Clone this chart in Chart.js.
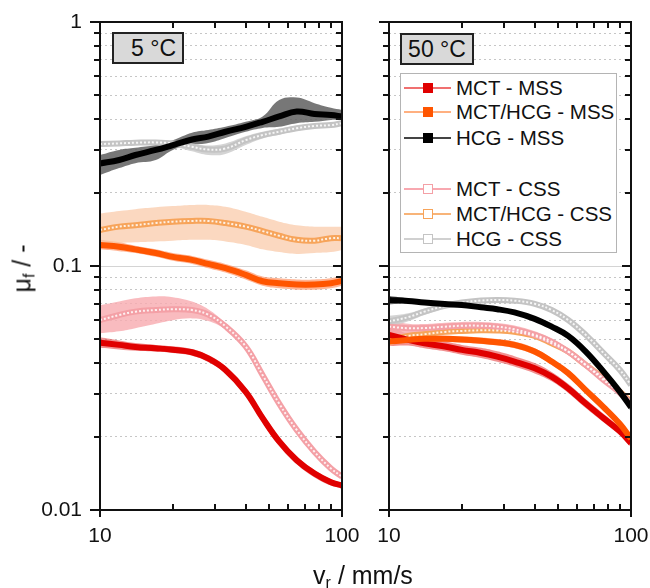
<!DOCTYPE html>
<html>
<head>
<meta charset="utf-8">
<script src="https://cdn.jsdelivr.net/npm/chart.js@4.4.1/dist/chart.umd.min.js"></script>
<style>
  body { margin: 0; background: #fff; font-family: "Liberation Sans", Arial, sans-serif; color: #111; }
  #wrap { position: relative; width: 650px; height: 588px; overflow: hidden; }
  canvas { position: absolute; top: 0; }
  #c5 { left: 0; }
  #c50 { left: 340px; }
  .temp { position: absolute; box-sizing: border-box; height: 32px; border: 2px solid #222; background: #d9d9d9;
          font-size: 23px; line-height: 28px; }
  #legend { position: absolute; left: 400px; top: 73px; width: 217px; height: 180px; box-sizing: border-box;
            border: 1px solid #b4b4b4; background: #fff; }
  .item { position: absolute; left: 0; height: 24px; width: 215px; font-size: 20.5px; line-height: 24px; }
  .item .ln { position: absolute; left: 3px; top: 11px; width: 47px; height: 1.5px; }
  .item .mk { position: absolute; left: 22px; top: 7px; width: 10px; height: 10px; box-sizing: border-box; }
  .item span { position: absolute; left: 55px; top: 0; white-space: nowrap; }
  #ytitle { position: absolute; left: -28px; top: 254px; width: 100px; text-align: center; font-size: 25px;
            transform: rotate(-90deg); }
  #xtitle { position: absolute; left: 263px; top: 561px; width: 200px; text-align: center; font-size: 25px; }
  sub { font-size: 16px; vertical-align: -4px; line-height: 0; }
</style>
</head>
<body>
<div id="wrap">
  <canvas id="c5" width="370" height="588"></canvas>
  <canvas id="c50" width="310" height="588"></canvas>
  <div class="temp" style="left:112px; top:32px; width:72px; text-align:right; padding-right:6px;">5 °C</div>
  <div class="temp" style="left:400px; top:33px; width:74px; text-align:center;">50 °C</div>
  <div id="legend"></div>
  <div id="ytitle">μ<sub>f</sub> / -</div>
  <div id="xtitle">v<sub>r</sub> / mm/s</div>
</div>
<script>
// sliding velocity (mm/s)
const velocity = [10, 12, 14, 17, 20, 24, 28, 33, 40, 47, 55, 65, 77, 90, 100];

// axis ticks
const xTickValues = [10, 20, 30, 40, 50, 60, 70, 80, 90, 100];
const xTickLabels = ['10', '', '', '', '', '', '', '', '', '100'];
const yTickValues = [0.01, 0.02, 0.03, 0.04, 0.05, 0.06, 0.07, 0.08, 0.09, 0.1,
                     0.2, 0.3, 0.4, 0.5, 0.6, 0.7, 0.8, 0.9, 1];
const yTickLabels = ['0.01', '', '', '', '', '', '', '', '', '0.1', '', '', '', '', '', '', '', '', '1'];

// ---- 5 °C ----
const mctMss5   = [0.0485, 0.0475, 0.0466, 0.046, 0.0454, 0.0443, 0.0418, 0.0375, 0.0305, 0.0238, 0.0191, 0.016, 0.0141, 0.013, 0.0126];
const mctMss5Hi = [0.051, 0.0495, 0.0483, 0.0475, 0.0469, 0.0457, 0.0432, 0.0389, 0.0318, 0.0249, 0.0199, 0.0166, 0.0146, 0.0134, 0.0129];
const mctMss5Lo = [0.0462, 0.0455, 0.0449, 0.0445, 0.044, 0.0429, 0.0404, 0.0362, 0.0293, 0.0228, 0.0183, 0.0154, 0.0136, 0.0126, 0.0123];

const mixMss5   = [0.122, 0.12, 0.117, 0.113, 0.109, 0.106, 0.102, 0.098, 0.092, 0.0866, 0.085, 0.084, 0.084, 0.085, 0.0868];
const mixMss5Hi = [0.128, 0.125, 0.121, 0.117, 0.113, 0.11, 0.106, 0.102, 0.096, 0.0905, 0.089, 0.088, 0.088, 0.089, 0.091];
const mixMss5Lo = [0.117, 0.115, 0.113, 0.109, 0.105, 0.102, 0.098, 0.094, 0.088, 0.083, 0.081, 0.080, 0.080, 0.081, 0.083];

const hcgMss5   = [0.263, 0.272, 0.285, 0.299, 0.313, 0.33, 0.339, 0.355, 0.372, 0.39, 0.41, 0.43, 0.42, 0.416, 0.41];
const hcgMss5Hi = [0.285, 0.299, 0.305, 0.313, 0.328, 0.352, 0.361, 0.372, 0.39, 0.41, 0.479, 0.49, 0.465, 0.445, 0.436];
const hcgMss5Lo = [0.236, 0.252, 0.264, 0.272, 0.299, 0.313, 0.319, 0.335, 0.355, 0.368, 0.372, 0.385, 0.39, 0.397, 0.397];

const mctCss5   = [0.060, 0.063, 0.065, 0.066, 0.0665, 0.066, 0.0632, 0.0566, 0.0468, 0.0357, 0.0273, 0.0213, 0.0173, 0.0148, 0.0137];
const mctCss5Hi = [0.069, 0.0715, 0.0737, 0.075, 0.0745, 0.0715, 0.0665, 0.0583, 0.0478, 0.0365, 0.0279, 0.0218, 0.0177, 0.0151, 0.014];
const mctCss5Lo = [0.053, 0.054, 0.0556, 0.058, 0.060, 0.061, 0.0595, 0.0549, 0.0458, 0.0349, 0.0267, 0.0208, 0.0169, 0.0145, 0.0134];

const mixCss5   = [0.1405, 0.145, 0.147, 0.15, 0.152, 0.153, 0.153, 0.15, 0.145, 0.139, 0.133, 0.128, 0.127, 0.13, 0.13];
const mixCss5Hi = [0.164, 0.168, 0.171, 0.174, 0.176, 0.178, 0.178, 0.175, 0.167, 0.159, 0.152, 0.147, 0.145, 0.145, 0.145];
const mixCss5Lo = [0.122, 0.124, 0.125, 0.126, 0.127, 0.128, 0.128, 0.126, 0.122, 0.117, 0.114, 0.112, 0.113, 0.114, 0.1164];

const hcgCss5   = [0.316, 0.318, 0.32, 0.321, 0.318, 0.308, 0.30, 0.303, 0.328, 0.344, 0.355, 0.367, 0.375, 0.378, 0.385];
const hcgCss5Hi = [0.322, 0.324, 0.326, 0.328, 0.326, 0.318, 0.312, 0.318, 0.34, 0.355, 0.365, 0.376, 0.383, 0.386, 0.392];
const hcgCss5Lo = [0.309, 0.311, 0.313, 0.314, 0.309, 0.295, 0.285, 0.288, 0.313, 0.333, 0.345, 0.358, 0.367, 0.37, 0.378];

// ---- 50 °C ----
const mctMss50   = [0.0522, 0.0498, 0.0482, 0.0468, 0.0453, 0.044, 0.0425, 0.0406, 0.0381, 0.0352, 0.0315, 0.0273, 0.0238, 0.021, 0.0188];
const mctMss50Hi = [0.0575, 0.0525, 0.0505, 0.049, 0.0475, 0.0462, 0.0447, 0.0427, 0.040, 0.0368, 0.0329, 0.0285, 0.0248, 0.0218, 0.0195];
const mctMss50Lo = [0.047, 0.0472, 0.046, 0.0447, 0.0433, 0.042, 0.0405, 0.0387, 0.0363, 0.0337, 0.0302, 0.0262, 0.0229, 0.0202, 0.0181];

const mixMss50   = [0.049, 0.0498, 0.0503, 0.0503, 0.050, 0.0494, 0.0487, 0.0475, 0.0446, 0.0406, 0.0364, 0.031, 0.0264, 0.0225, 0.0196];
const mixMss50Hi = [0.0505, 0.0513, 0.0518, 0.0518, 0.0515, 0.0509, 0.0502, 0.049, 0.046, 0.0419, 0.0376, 0.032, 0.0273, 0.0233, 0.0203];
const mixMss50Lo = [0.0475, 0.0483, 0.0488, 0.0488, 0.0485, 0.0479, 0.0472, 0.046, 0.0432, 0.0393, 0.0352, 0.030, 0.0255, 0.0217, 0.0189];

const hcgMss50   = [0.0726, 0.0719, 0.0708, 0.0698, 0.0692, 0.0677, 0.0665, 0.0645, 0.0607, 0.0564, 0.0517, 0.0446, 0.0369, 0.0305, 0.0264];
const hcgMss50Hi = [0.0755, 0.0735, 0.072, 0.0709, 0.0702, 0.0687, 0.0675, 0.0655, 0.0617, 0.0574, 0.0527, 0.0456, 0.0379, 0.0315, 0.0275];
const hcgMss50Lo = [0.0695, 0.0703, 0.0696, 0.0687, 0.0682, 0.0667, 0.0655, 0.0635, 0.0597, 0.0554, 0.0507, 0.0436, 0.0359, 0.0295, 0.0253];

const mctCss50   = [0.0564, 0.0556, 0.0557, 0.0564, 0.0569, 0.0569, 0.0564, 0.055, 0.0522, 0.049, 0.0446, 0.0393, 0.0341, 0.0302, 0.0273];
const mctCss50Hi = [0.060, 0.058, 0.0578, 0.0585, 0.059, 0.059, 0.0584, 0.057, 0.054, 0.0505, 0.0459, 0.0404, 0.035, 0.031, 0.028];
const mctCss50Lo = [0.0505, 0.0525, 0.0535, 0.0543, 0.0548, 0.0548, 0.0544, 0.053, 0.0504, 0.0475, 0.0433, 0.0382, 0.0332, 0.0294, 0.0266];

const mixCss50   = [0.0498, 0.0517, 0.0525, 0.0537, 0.0542, 0.0545, 0.0544, 0.0537, 0.0517, 0.0482, 0.0446, 0.0393, 0.0346, 0.0305, 0.0277];
const mixCss50Hi = [0.0525, 0.0535, 0.054, 0.055, 0.0555, 0.0558, 0.0557, 0.055, 0.053, 0.0494, 0.0457, 0.0403, 0.0355, 0.0313, 0.0284];
const mixCss50Lo = [0.047, 0.0499, 0.051, 0.0524, 0.0529, 0.0532, 0.0531, 0.0524, 0.0504, 0.047, 0.0435, 0.0383, 0.0337, 0.0297, 0.027];

const hcgCss50   = [0.0593, 0.0617, 0.065, 0.0686, 0.0708, 0.0722, 0.0726, 0.0721, 0.070, 0.066, 0.0601, 0.0522, 0.044, 0.0375, 0.0325];
const hcgCss50Hi = [0.0625, 0.064, 0.067, 0.0702, 0.0722, 0.0736, 0.074, 0.0735, 0.0714, 0.0674, 0.0614, 0.0534, 0.045, 0.0384, 0.0334];
const hcgCss50Lo = [0.0562, 0.0594, 0.063, 0.067, 0.0694, 0.0708, 0.0712, 0.0707, 0.0686, 0.0646, 0.0588, 0.051, 0.043, 0.0366, 0.0316];

// legend
const legendLabels = ['MCT - MSS', 'MCT/HCG - MSS', 'HCG - MSS', 'MCT - CSS', 'MCT/HCG - CSS', 'HCG - CSS'];

// --- Styles per series ---
const styles = {
    mctMss: { line: '#e00000', band: 'rgba(232, 70, 70, 0.6)', legendLine: '#f07070', open: false },
    mixMss: { line: '#ff5500', band: 'rgba(255, 140, 90, 0.65)', legendLine: '#ffb080', open: false },
    hcgMss: { line: '#000000', band: 'rgba(95, 95, 95, 0.85)', legendLine: '#444444', open: false },
    mctCss: { line: '#f4a0a6', band: 'rgba(248, 170, 175, 0.8)', legendLine: '#f8a8b0', open: true },
    mixCss: { line: '#f7a45a', band: 'rgba(250, 200, 165, 0.7)', legendLine: '#f8b478', open: true },
    hcgCss: { line: '#c4c4c4', band: 'rgba(205, 205, 205, 0.85)', legendLine: '#d0d0d0', open: true }
};

const isDecade = v => Math.abs(Math.log10(v) - Math.round(Math.log10(v))) < 1e-9;
const pts = arr => arr.map((y, i) => ({ x: velocity[i], y: y }));
const TENSION = 0.4;

function buildDatasets(series) {
    const out = [];
    series.forEach(s => {
        const st = styles[s.key];
        out.push({ data: pts(s.lo), borderWidth: 0, pointRadius: 0, fill: false, order: 20, tension: TENSION });
        out.push({ data: pts(s.hi), borderWidth: 0, pointRadius: 0, fill: '-1', backgroundColor: st.band,
                   order: 20, tension: TENSION });
    });
    series.forEach(s => {
        const st = styles[s.key];
        out.push({ data: pts(s.mid), borderColor: st.line, borderWidth: 6, pointRadius: 0,
                   fill: false, order: st.open ? 6 : 3, tension: TENSION });
        if (st.open) {
            out.push({ data: pts(s.mid), borderColor: 'rgba(255,255,255,0.85)', borderWidth: 2,
                       borderDash: [2, 2], pointRadius: 0, fill: false, order: 5, tension: TENSION });
        }
    });
    return out;
}

// --- Frame + tick marks ---
const framePlugin = {
    id: 'frame',
    afterDraw(chart) {
        const { ctx, chartArea: a, scales: { x, y } } = chart;
        ctx.save();
        ctx.strokeStyle = '#111';
        ctx.lineWidth = 2;
        ctx.strokeRect(a.left, a.top, a.right - a.left, a.bottom - a.top);
        ctx.beginPath();
        yTickValues.forEach(v => {
            const py = Math.round(y.getPixelForValue(v));
            const major = isDecade(v);
            ctx.moveTo(a.left - (major ? 10 : 6), py);
            ctx.lineTo(a.left, py);
            ctx.moveTo(a.right - (major ? 9 : 6), py);
            ctx.lineTo(a.right, py);
        });
        xTickValues.forEach(v => {
            const px = Math.round(x.getPixelForValue(v));
            if (isDecade(v)) {
                ctx.moveTo(px, a.bottom);
                ctx.lineTo(px, a.bottom + 7);
            } else {
                ctx.moveTo(px, a.bottom);
                ctx.lineTo(px, a.bottom - 6);
                ctx.moveTo(px, a.top);
                ctx.lineTo(px, a.top + 6);
            }
        });
        ctx.stroke();
        ctx.restore();
    }
};

function makeChart(canvasId, series, showYLabels, yWidth, padRight) {
    return new Chart(document.getElementById(canvasId), {
        type: 'line',
        data: { datasets: buildDatasets(series) },
        options: {
            responsive: false,
            animation: false,
            layout: { padding: { top: 22, right: padRight, left: 0, bottom: 0 } },
            plugins: { legend: { display: false }, tooltip: { enabled: false } },
            scales: {
                x: {
                    type: 'logarithmic',
                    min: 10,
                    max: 100,
                    afterBuildTicks: scale => { scale.ticks = xTickValues.map(v => ({ value: v })); },
                    afterFit: scale => { scale.height = 78; scale.paddingLeft = 0; scale.paddingRight = 0; },
                    grid: { display: false },
                    border: { display: false },
                    ticks: {
                        autoSkip: false,
                        maxRotation: 0,
                        padding: 6,
                        color: '#111',
                        font: { size: 21, family: 'Liberation Sans' },
                        callback: v => xTickLabels[xTickValues.indexOf(v)] || ''
                    }
                },
                y: {
                    type: 'logarithmic',
                    min: 0.01,
                    max: 1,
                    afterBuildTicks: scale => { scale.ticks = yTickValues.map(v => ({ value: v })); },
                    afterFit: scale => { scale.width = yWidth; scale.paddingTop = 0; scale.paddingBottom = 0; },
                    grid: {
                        drawTicks: false,
                        lineWidth: 1,
                        color: c => (c.tick && isDecade(c.tick.value)) ? '#d4d4d4' : '#c6c6c6'
                    },
                    border: {
                        display: false,
                        dash: c => (c.tick && !isDecade(c.tick.value)) ? [2, 3] : []
                    },
                    ticks: {
                        display: showYLabels,
                        autoSkip: false,
                        padding: 18,
                        color: '#111',
                        font: { size: 21, family: 'Liberation Sans' },
                        callback: v => {
                            const i = yTickValues.findIndex(t => Math.abs(t - v) < 1e-9);
                            return i >= 0 ? yTickLabels[i] : '';
                        }
                    }
                }
            }
        },
        plugins: [framePlugin]
    });
}

makeChart('c5', [
    { key: 'hcgCss', mid: hcgCss5, hi: hcgCss5Hi, lo: hcgCss5Lo },
    { key: 'hcgMss', mid: hcgMss5, hi: hcgMss5Hi, lo: hcgMss5Lo },
    { key: 'mixCss', mid: mixCss5, hi: mixCss5Hi, lo: mixCss5Lo },
    { key: 'mixMss', mid: mixMss5, hi: mixMss5Hi, lo: mixMss5Lo },
    { key: 'mctCss', mid: mctCss5, hi: mctCss5Hi, lo: mctCss5Lo },
    { key: 'mctMss', mid: mctMss5, hi: mctMss5Hi, lo: mctMss5Lo }
], true, 100, 28);

makeChart('c50', [
    { key: 'hcgCss', mid: hcgCss50, hi: hcgCss50Hi, lo: hcgCss50Lo },
    { key: 'mctCss', mid: mctCss50, hi: mctCss50Hi, lo: mctCss50Lo },
    { key: 'mixCss', mid: mixCss50, hi: mixCss50Hi, lo: mixCss50Lo },
    { key: 'hcgMss', mid: hcgMss50, hi: hcgMss50Hi, lo: hcgMss50Lo },
    { key: 'mixMss', mid: mixMss50, hi: mixMss50Hi, lo: mixMss50Lo },
    { key: 'mctMss', mid: mctMss50, hi: mctMss50Hi, lo: mctMss50Lo }
], false, 49, 19);

// --- Legend (HTML) ---
const legendKeys = ['mctMss', 'mixMss', 'hcgMss', 'mctCss', 'mixCss', 'hcgCss'];
const legendTops = [2, 26, 52, 103, 128, 153];
const legendBox = document.getElementById('legend');
legendLabels.forEach((label, i) => {
    const st = styles[legendKeys[i]];
    const item = document.createElement('div');
    item.className = 'item';
    item.style.top = legendTops[i] + 'px';
    const mkStyle = st.open
        ? `background:#fff; border:1.5px solid ${st.line};`
        : `background:${st.line};`;
    item.innerHTML = `<div class="ln" style="background:${st.legendLine}"></div>
        <div class="mk" style="${mkStyle}"></div><span>${label}</span>`;
    legendBox.appendChild(item);
});
</script>
</body>
</html>
